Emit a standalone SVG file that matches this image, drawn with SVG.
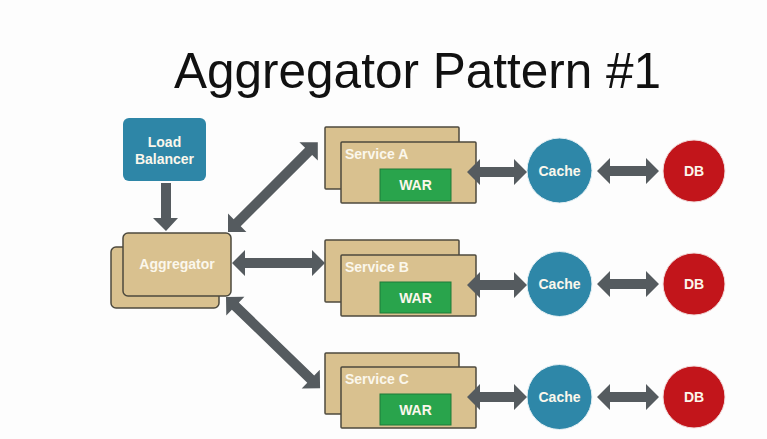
<svg xmlns="http://www.w3.org/2000/svg" width="767" height="439" viewBox="0 0 767 439">
<defs>
<style>
.tan{fill:#d9c18f;stroke:#4d4a3e;stroke-width:1.5}
.lbl{font-family:"Liberation Sans",Arial,Helvetica,sans-serif;font-weight:bold;font-size:14px;fill:#fbf7ec}
.svc{font-family:"Liberation Sans",Arial,Helvetica,sans-serif;font-weight:bold;font-size:14px;fill:#fbf7ec}
.war{fill:#29a44c;stroke:#1f7a39;stroke-width:1}
.cache{fill:#2e87a8;stroke:#e6f0f4;stroke-width:1}
.db{fill:#c2151b;stroke:#f2dede;stroke-width:1}
.arr{fill:#555b5f}
</style>
<path id="dbl" d="M0,0 L13,-13 L13,-5 L-13,-5 Z"/>
</defs>
<rect width="767" height="439" fill="#fdfdfd"/>
<g id="title">
<text x="174" y="88" font-family="'Liberation Sans',Arial,Helvetica,sans-serif" font-size="49.5" fill="#111">Aggregator Pattern #1</text>
</g>
<g id="load-balancer">
<rect x="123" y="118" width="83" height="63" rx="6" fill="#2e86a7"/>
<text class="lbl" x="164.5" y="147" text-anchor="middle">Load</text>
<text class="lbl" x="164.5" y="164" text-anchor="middle">Balancer</text>
</g>
<g id="aggregator">
<rect class="tan" x="111" y="247" width="108" height="61" rx="5"/>
<rect class="tan" x="123" y="233" width="108" height="63" rx="5"/>
<text class="lbl" x="177" y="269" text-anchor="middle">Aggregator</text>
</g>
<g id="service-a">
<rect class="tan" x="325" y="127" width="134" height="62" rx="1"/>
<rect class="tan" x="341" y="142" width="135" height="61" rx="1"/>
<text class="svc" x="345" y="159">Service A</text>
<rect class="war" x="380" y="169" width="71" height="32"/>
<text class="svc" x="415.5" y="190" text-anchor="middle">WAR</text>
</g>
<g id="service-b">
<rect class="tan" x="325" y="240" width="134" height="62" rx="1"/>
<rect class="tan" x="341" y="255" width="135" height="61" rx="1"/>
<text class="svc" x="345" y="272">Service B</text>
<rect class="war" x="380" y="282" width="71" height="31"/>
<text class="svc" x="415.5" y="303" text-anchor="middle">WAR</text>
</g>
<g id="service-c">
<rect class="tan" x="325" y="353" width="134" height="61" rx="1"/>
<rect class="tan" x="341" y="367" width="135" height="61" rx="1"/>
<text class="svc" x="345" y="384">Service C</text>
<rect class="war" x="380" y="394" width="71" height="31"/>
<text class="svc" x="415.5" y="415" text-anchor="middle">WAR</text>
</g>
<g id="cache-a"><circle class="cache" cx="559.5" cy="170.5" r="32.5"/><text class="lbl" x="559.5" y="175.5" text-anchor="middle">Cache</text></g>
<g id="cache-b"><circle class="cache" cx="559.5" cy="284" r="32.5"/><text class="lbl" x="559.5" y="289" text-anchor="middle">Cache</text></g>
<g id="cache-c"><circle class="cache" cx="559.5" cy="397" r="32.5"/><text class="lbl" x="559.5" y="402" text-anchor="middle">Cache</text></g>
<g id="db-a"><circle class="db" cx="694" cy="171" r="31"/><text class="lbl" x="694" y="176" text-anchor="middle">DB</text></g>
<g id="db-b"><circle class="db" cx="694" cy="284" r="31"/><text class="lbl" x="694" y="289" text-anchor="middle">DB</text></g>
<g id="db-c"><circle class="db" cx="694" cy="397" r="31"/><text class="lbl" x="694" y="402" text-anchor="middle">DB</text></g>
<g id="connectors" class="arr">
<!-- LB to Aggregator -->
<polygon points="161,183 171,183 171,218 178,218 166,231 153,218 161,218"/>
<!-- Aggregator <-> Service A -->
<polygon transform="translate(228,232) rotate(-45)" points="0,0 13,-13 13,-5 114,-5 114,-13 127,0 114,13 114,5 13,5 13,13"/>
<!-- Aggregator <-> Service B -->
<polygon transform="translate(232,263)" points="0,0 13,-13 13,-5 80,-5 80,-13 93,0 80,13 80,5 13,5 13,13"/>
<!-- Aggregator <-> Service C -->
<polygon transform="translate(226,297) rotate(44.1)" points="0,0 13,-13 13,-5 118,-5 118,-13 131,0 118,13 118,5 13,5 13,13"/>
<!-- Service <-> Cache -->
<polygon transform="translate(467,172)" points="0,0 13,-13 13,-5 47,-5 47,-13 60,0 47,13 47,5 13,5 13,13"/>
<polygon transform="translate(467,285)" points="0,0 13,-13 13,-5 47,-5 47,-13 60,0 47,13 47,5 13,5 13,13"/>
<polygon transform="translate(467,397)" points="0,0 13,-13 13,-5 47,-5 47,-13 60,0 47,13 47,5 13,5 13,13"/>
<!-- Cache <-> DB -->
<polygon transform="translate(597,171)" points="0,0 13,-13 13,-5 49,-5 49,-13 62,0 49,13 49,5 13,5 13,13"/>
<polygon transform="translate(597,284)" points="0,0 13,-13 13,-5 49,-5 49,-13 62,0 49,13 49,5 13,5 13,13"/>
<polygon transform="translate(597,397)" points="0,0 13,-13 13,-5 49,-5 49,-13 62,0 49,13 49,5 13,5 13,13"/>
</g>
</svg>
